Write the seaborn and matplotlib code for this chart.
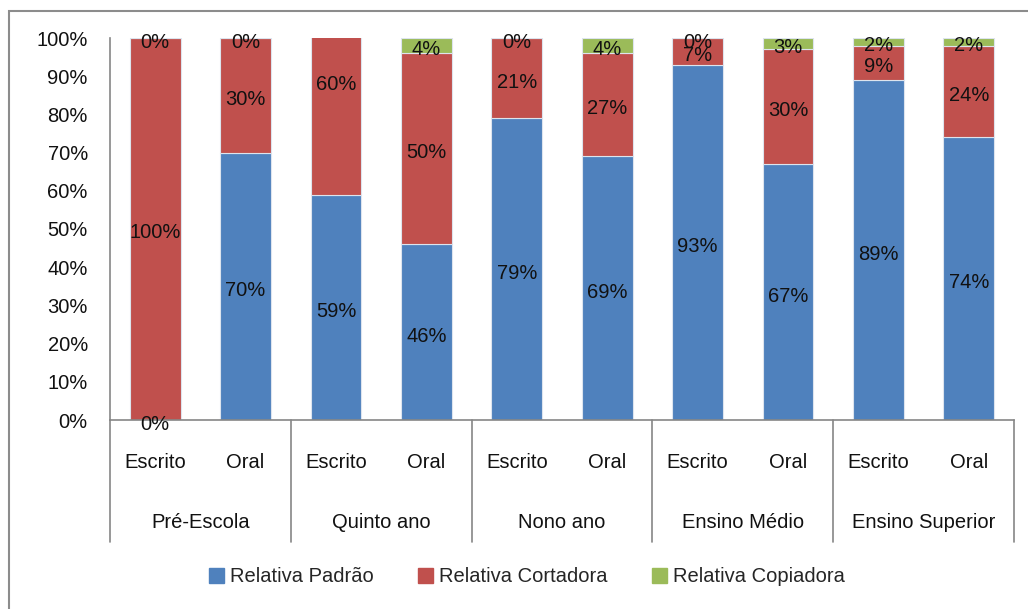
import matplotlib
matplotlib.use("Agg")
import matplotlib.pyplot as plt
import matplotlib.patches as mpatches
from matplotlib.transforms import blended_transform_factory, offset_copy
import seaborn as sns
import pandas as pd

groups = ["Pré-Escola", "Quinto ano", "Nono ano", "Ensino Médio", "Ensino Superior"]
types = ["Escrito", "Oral"]
padrao = [0, 70, 59, 46, 79, 69, 93, 67, 89, 74]
cortadora = [100, 30, 60, 50, 21, 27, 7, 30, 9, 24]
copiadora = [0, 0, 0, 4, 0, 4, 0, 3, 2, 2]
series_names = ["Relativa Padrão", "Relativa Cortadora", "Relativa Copiadora"]
colors = ["#4F81BD", "#C0504D", "#9BBB59"]
yticks = list(range(0, 101, 10))

sns.set_theme(style="white")
plt.rcParams["font.family"] = ["Liberation Sans", "DejaVu Sans"]

keys = [f"{g}|{t}" for g in groups for t in types]
df = pd.DataFrame({"key": keys, "padrao": padrao, "cortadora": cortadora, "copiadora": copiadora})
df["b2"] = df["padrao"]
df["b3"] = df["padrao"] + df["cortadora"]

W, H = 1028, 609
fig = plt.figure(figsize=(W / 100, H / 100), dpi=100)
ax = fig.add_axes([110 / W, (H - 420) / H, (1014 - 110) / W, (420 - 38) / H])

vals = [("padrao", None), ("cortadora", "b2"), ("copiadora", "b3")]
for (col, bcol), c in zip(vals, colors):
    kw = {}
    if bcol is not None:
        kw["bottom"] = df[bcol].values
    sns.barplot(data=df, x="key", y=col, order=keys, color=c, width=0.56,
                edgecolor="#dde4ee", linewidth=0.8, saturation=1, ax=ax, **kw)

ax.set_xlim(-0.5, len(keys) - 0.5)
ax.set_ylim(0, 100)
ax.set_yticks(yticks)
ax.set_yticklabels([f"{v}%" for v in yticks], fontsize=14.5, color="#111111")
ax.tick_params(axis="y", length=0, pad=16)
ax.set_xticks(range(len(keys)))
ax.set_xticklabels([k.split("|")[1] for k in keys], fontsize=14.5, color="#111111")
ax.tick_params(axis="x", length=0, pad=24)
ax.set_xlabel("")
ax.set_ylabel("")
for s in ["top", "right"]:
    ax.spines[s].set_visible(False)
for s in ["left", "bottom"]:
    ax.spines[s].set_color("#868686")
    ax.spines[s].set_linewidth(1.2)

# value labels
lab_tr = offset_copy(ax.transData, fig=fig, x=0, y=-4, units="dots")
for i in range(len(keys)):
    bottoms = [0, padrao[i], padrao[i] + cortadora[i]]
    for v, b in zip([padrao[i], cortadora[i], copiadora[i]], bottoms):
        cy = b + v / 2
        if cy > 100.5:
            continue
        ax.text(i, cy, f"{v}%", ha="center", va="center", fontsize=14.5,
                color="#111111", clip_on=False, transform=lab_tr)

# group separators and labels
trans = blended_transform_factory(ax.transData, ax.transAxes)
ybot = -(542 - 420) / 382
for xs in [-0.5 + 2 * k for k in range(len(groups) + 1)]:
    ax.plot([xs, xs], [0, ybot], transform=trans, color="#868686", lw=1.2, clip_on=False)
for k, g in enumerate(groups):
    ax.text(2 * k + 0.5, -(522 - 420) / 382, g, transform=trans, ha="center", va="center",
            fontsize=14.5, color="#111111")

handles = [mpatches.Patch(color=c, label=n) for c, n in zip(colors, series_names)]
fig.legend(handles=handles, loc="center", bbox_to_anchor=(527 / W, 1 - 577 / H), ncol=3,
           frameon=False, fontsize=14.5, handlelength=0.75, handleheight=0.75,
           handletextpad=0.3, columnspacing=2.2)

# outer chart border
fig.patches.append(mpatches.Rectangle((9 / W, -0.05), 1.1, 1 - 11 / H + 0.05, transform=fig.transFigure,
                                      fill=False, edgecolor="#8c8c8c", lw=1.5))

fig.savefig("out.png", dpi=100)
